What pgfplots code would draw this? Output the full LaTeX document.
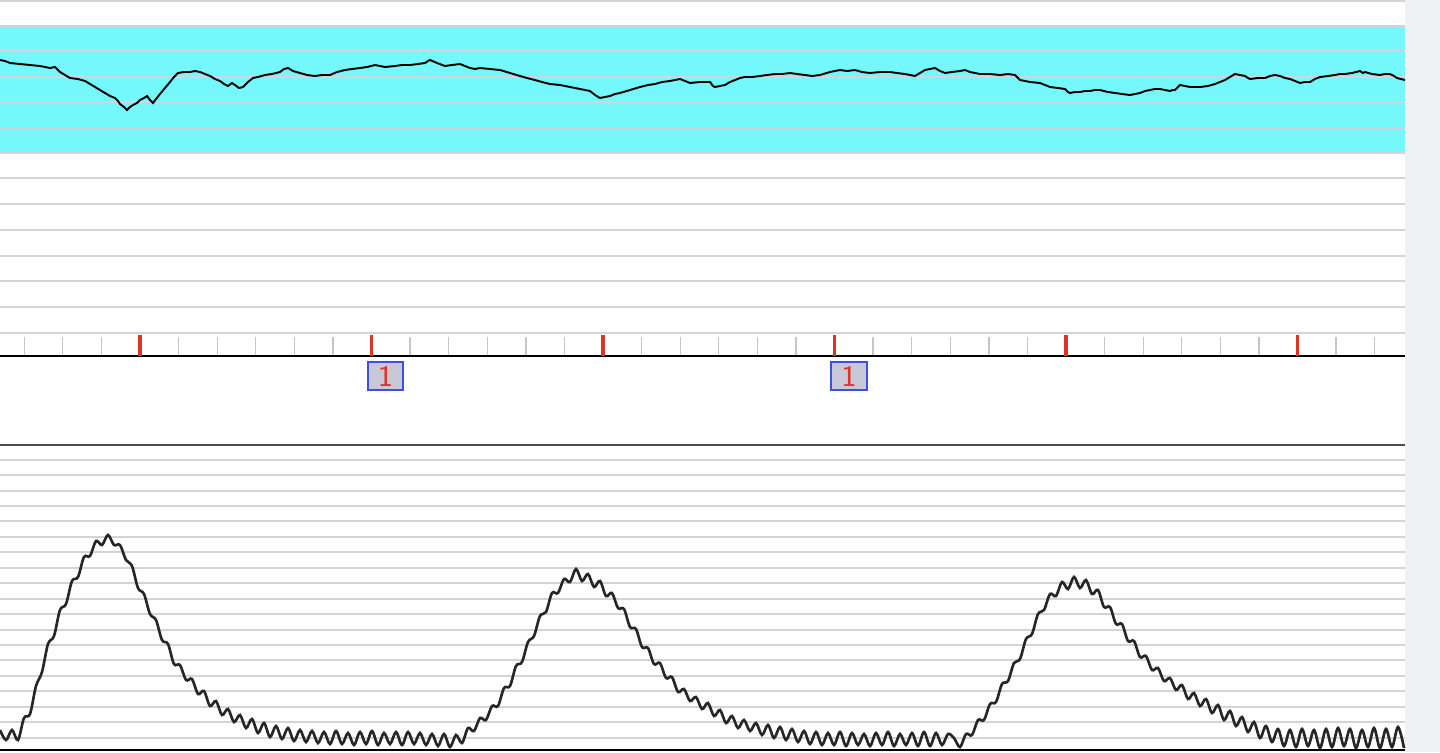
\documentclass[border=0pt]{standalone}
\usepackage{pgfplots}
\pgfplotsset{compat=1.18}
\definecolor{bandcyan}{RGB}{116,248,252}
\definecolor{gridc}{RGB}{212,210,218}
\definecolor{stripc}{RGB}{240,241,244}
\definecolor{markfill}{RGB}{200,200,214}
\definecolor{markblue}{RGB}{60,80,225}
\definecolor{tickred}{RGB}{225,50,40}
\begin{document}
\begin{tikzpicture}
\begin{axis}[
  scale only axis, width=14.4cm, height=7.52cm,
  xmin=0, xmax=1440, ymin=0, ymax=752, y dir=reverse,
  hide axis, clip=true, unbounded coords=jump]
% background and right strip
\addplot[fill=white, draw=none] coordinates {(0,0) (1440,0) (1440,752) (0,752)};
\addplot[fill=stripc, draw=none] coordinates {(1405,0) (1440,0) (1440,752) (1405,752)};
% cyan band
\addplot[fill=bandcyan, draw=none] coordinates {(0,26) (1405,26) (1405,153) (0,153)};
% grid lines
\addplot[gridc, line width=0.35pt] coordinates {
(0,1) (1405,1) (0,nan) (0,26) (1405,26) (0,nan) (0,51) (1405,51) (0,nan)
(0,77) (1405,77) (0,nan) (0,102) (1405,102) (0,nan) (0,128) (1405,128) (0,nan)
(0,153) (1405,153) (0,nan) (0,178) (1405,178) (0,nan) (0,204) (1405,204) (0,nan)
(0,230) (1405,230) (0,nan) (0,256) (1405,256) (0,nan) (0,281) (1405,281) (0,nan)
(0,307) (1405,307) (0,nan) (0,333) (1405,333) (0,nan)
(0,460) (1405,460) (0,nan) (0,475) (1405,475) (0,nan) (0,491) (1405,491) (0,nan)
(0,506) (1405,506) (0,nan) (0,521) (1405,521) (0,nan) (0,537) (1405,537) (0,nan)
(0,552) (1405,552) (0,nan) (0,568) (1405,568) (0,nan) (0,583) (1405,583) (0,nan)
(0,599) (1405,599) (0,nan) (0,614) (1405,614) (0,nan) (0,630) (1405,630) (0,nan)
(0,645) (1405,645) (0,nan) (0,660) (1405,660) (0,nan) (0,676) (1405,676) (0,nan)
(0,691) (1405,691) (0,nan) (0,707) (1405,707) (0,nan) (0,722) (1405,722) (0,nan)
(0,738) (1405,738)};
% separator lines
\addplot[black!70, line width=0.8pt] coordinates {(0,445) (1405,445)};
\addplot[black, line width=0.6pt] coordinates {(0,750) (1405,750)};
% time axis
\addplot[gray!45, line width=0.3pt] coordinates {
(24.2,337) (24.2,356) (0,nan) (62.8,337) (62.8,356) (0,nan) (101.4,337) (101.4,356) (0,nan)
(178.6,337) (178.6,356) (0,nan) (217.2,337) (217.2,356) (0,nan) (255.8,337) (255.8,356) (0,nan)
(294.4,337) (294.4,356) (0,nan) (333,337) (333,356) (0,nan)
(410,337) (410,356) (0,nan) (448.7,337) (448.7,356) (0,nan) (487.3,337) (487.3,356) (0,nan)
(526,337) (526,356) (0,nan) (564.5,337) (564.5,356) (0,nan)
(641.6,337) (641.6,356) (0,nan) (680.2,337) (680.2,356) (0,nan) (718.8,337) (718.8,356) (0,nan)
(757.4,337) (757.4,356) (0,nan) (796,337) (796,356) (0,nan)
(873,337) (873,356) (0,nan) (911.7,337) (911.7,356) (0,nan) (950.3,337) (950.3,356) (0,nan)
(989,337) (989,356) (0,nan) (1027.5,337) (1027.5,356) (0,nan)
(1104.6,337) (1104.6,356) (0,nan) (1143.2,337) (1143.2,356) (0,nan) (1181.8,337) (1181.8,356) (0,nan)
(1220.4,337) (1220.4,356) (0,nan) (1259,337) (1259,356) (0,nan)
(1336,337) (1336,356) (0,nan) (1374.7,337) (1374.7,356)};
\addplot[black, line width=0.6pt] coordinates {(0,356) (1405,356)};
\addplot[tickred, line width=0.9pt] coordinates {
(140,335) (140,356) (0,nan) (371.5,335) (371.5,356) (0,nan) (603,335) (603,356) (0,nan)
(834.5,335) (834.5,356) (0,nan) (1066,335) (1066,356) (0,nan) (1297.5,335) (1297.5,356)};
% event markers
\node[draw=markblue, fill=markfill, line width=0.6pt, minimum width=10pt, minimum height=7.8pt, inner sep=0pt, text=tickred, font=\sffamily\fontsize{8.5}{9}\selectfont] at (axis cs:385.5,376) {1};
\node[draw=markblue, fill=markfill, line width=0.6pt, minimum width=10pt, minimum height=7.8pt, inner sep=0pt, text=tickred, font=\sffamily\fontsize{8.5}{9}\selectfont] at (axis cs:849,376) {1};
% top trace
\addplot[black, line width=0.55pt] coordinates {
(0,60) (5,61) (10,63) (20,64) (30,65) (40,66) (50,68) (55,67) (60,72) (65,75) (70,78)
(78,79) (85,81) (90,84) (95,87) (100,90) (105,93) (110,96) (115,98) (118,101) (120,104)
(124,107) (127,110) (130,107) (133,105) (137,103) (140,100) (144,98) (147,96) (150,100)
(153,103) (156,99) (160,94) (165,88) (170,82) (174,77) (178,73) (184,72) (190,72) (195,71)
(200,72) (205,74) (210,76) (215,79) (220,81) (224,84) (228,86) (232,83) (235,85) (239,88)
(243,87) (248,82) (253,78) (258,77) (265,75) (272,74) (280,72) (284,69) (288,68) (293,71)
(300,73) (307,75) (315,76) (322,75) (330,75) (337,72) (345,70) (352,69) (360,68) (367,67)
(375,65) (385,67) (395,66) (402,65) (410,65) (418,64) (425,63) (428,61) (430,60) (437,63)
(445,66) (452,65) (460,64) (465,66) (470,68) (475,69) (480,68) (490,69) (500,70) (510,73)
(520,76) (527,78) (535,80) (542,82) (550,84) (560,85) (570,87) (580,89) (590,91) (595,95)
(600,98) (605,97) (610,96) (615,94) (620,93) (630,90) (640,87) (648,85) (655,84) (662,82)
(670,81) (675,80) (680,79) (685,81) (690,83) (700,82) (710,82) (713,86) (715,87) (720,86)
(725,85) (730,82) (735,80) (740,78) (745,77) (752,77) (760,76) (767,75) (775,74) (782,74)
(790,73) (797,74) (805,75) (812,76) (820,75) (830,72) (840,70) (847,71) (855,70) (862,72)
(870,73) (880,72) (890,72) (897,73) (905,74) (910,75) (915,76) (920,73) (925,70) (930,69)
(935,68) (940,71) (945,73) (952,72) (960,71) (965,70) (970,72) (980,74) (990,74) (1000,75)
(1008,74) (1015,75) (1018,78) (1020,80) (1030,82) (1040,83) (1045,85) (1050,87) (1058,88)
(1065,89) (1068,92) (1070,93) (1075,92) (1080,92) (1085,91) (1090,91) (1095,90) (1100,90)
(1108,92) (1115,93) (1122,94) (1130,95) (1135,94) (1140,93) (1145,91) (1150,90) (1155,89)
(1160,89) (1165,90) (1170,91) (1173,90) (1175,90) (1178,87) (1180,85) (1185,86) (1190,87)
(1195,87) (1200,87) (1208,86) (1215,84) (1220,82) (1225,80) (1230,77) (1235,74) (1240,75)
(1245,76) (1248,78) (1250,79) (1258,78) (1265,78) (1270,76) (1275,75) (1280,76) (1285,78)
(1290,79) (1295,81) (1300,83) (1305,82) (1310,82) (1315,79) (1320,77) (1328,76) (1335,75)
(1340,74) (1345,74) (1352,73) (1360,71) (1363,73) (1365,72) (1372,74) (1380,75) (1385,74)
(1390,74) (1394,76) (1397,78) (1401,79) (1405,80)};
% bottom trace
\addplot[black!85, line width=0.75pt, smooth, tension=0.55] coordinates {
(0,730) (6,740) (12,730) (18,740) (24,718) (30,714) (36,686) (42,672) (48,644) (54,636)
(60,610) (66,604) (72,581) (78,577) (84,557) (90,556) (96,541) (102,545) (108,535) (114,545)
(120,545) (126,560) (132,566) (138,588) (144,594) (150,614) (156,620) (162,640) (168,644) (174,664)
(180,665) (186,680) (192,679) (198,694) (204,691) (210,706) (216,701) (222,715) (228,709) (234,722)
(240,715) (246,728) (252,719) (258,733) (264,723) (270,737) (276,726) (282,739) (288,728) (294,741)
(300,730) (306,742) (312,731) (318,743) (324,732) (330,744) (336,731) (342,744) (348,733) (354,745)
(360,732) (366,744) (372,731) (378,745) (384,733) (390,744) (396,732) (402,745) (408,732) (414,744)
(420,733) (426,745) (432,734) (438,746) (444,734) (450,747) (456,735) (462,743) (468,728) (474,731)
(480,718) (486,720) (492,706) (498,706) (504,688) (510,686) (516,666) (522,662) (528,642) (534,636)
(540,616) (546,612) (552,593) (558,593) (564,579) (570,582) (576,569) (582,581) (588,574) (594,587)
(600,581) (606,596) (612,593) (618,608) (624,609) (630,627) (636,629) (642,647) (648,648) (654,664)
(660,663) (666,678) (672,677) (678,692) (684,689) (690,701) (696,697) (702,709) (708,703) (714,716)
(720,710) (726,723) (732,716) (738,728) (744,720) (750,731) (756,723) (762,735) (768,725) (774,738)
(780,727) (786,740) (792,729) (798,742) (804,731) (810,744) (816,732) (822,745) (828,733) (834,745)
(840,732) (846,746) (852,733) (858,745) (864,734) (870,746) (876,733) (882,745) (888,732) (894,746)
(900,734) (906,745) (912,733) (918,746) (924,732) (930,746) (936,733) (942,745) (948,734) (954,738)
(960,747) (966,734) (972,735) (978,720) (984,720) (990,704) (996,702) (1002,684) (1008,681) (1014,663)
(1020,659) (1026,639) (1032,634) (1038,614) (1044,610) (1050,594) (1056,596) (1062,582) (1068,589) (1074,577)
(1080,588) (1086,580) (1092,594) (1098,590) (1104,607) (1110,607) (1116,624) (1122,624) (1128,641) (1134,641)
(1140,657) (1146,656) (1152,670) (1158,668) (1164,681) (1170,678) (1176,690) (1182,685) (1188,699) (1194,693)
(1200,706) (1206,699) (1212,713) (1218,705) (1224,720) (1230,711) (1236,726) (1242,717) (1248,732) (1254,722)
(1260,738) (1266,726) (1272,742) (1278,729) (1284,746) (1290,730) (1296,747) (1302,729) (1308,746) (1314,730)
(1320,748) (1326,729) (1332,747) (1338,728) (1344,746) (1350,729) (1356,748) (1362,730) (1368,747) (1374,728)
(1380,748) (1386,729) (1392,747) (1398,727) (1404,748)};
\end{axis}
\end{tikzpicture}
\end{document}
